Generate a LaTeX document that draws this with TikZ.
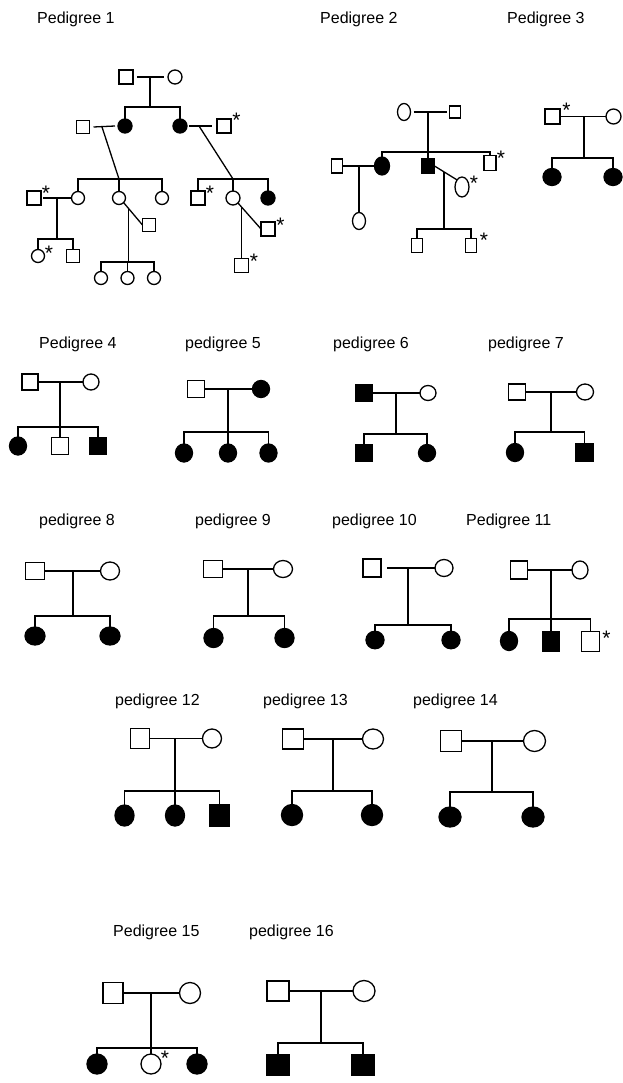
\documentclass[tikz,border=0pt]{standalone}
\usepackage{fontspec}
\setmainfont{Liberation Sans}
\usetikzlibrary{shapes.geometric,calc}
\tikzset{
 sym/.style={draw, line width=1.3pt, inner sep=0pt, outer sep=0pt},
 msq/.style 2 args={sym, rectangle, minimum width=#1, minimum height=#2},
 fel/.style 2 args={sym, ellipse, minimum width=#1, minimum height=#2},
 aff/.style={fill=black},
 con/.style={line width=1.3pt},
 lbl/.style={anchor=base west, inner sep=0pt, font=\fontsize{16}{19}\selectfont},
 ast/.style={anchor=base, inner sep=0pt, font=\fontsize{21}{21}\selectfont},
}
\begin{document}
\begin{tikzpicture}[x=1pt,y=-1pt]
\path[use as bounding box, fill=white] (0,0) rectangle (623,1083);

% ---------------- Pedigree 1
\node[lbl] (l1) at (37,24) {Pedigree 1};
\node[msq={14}{14}] (p1a) at (126,77) {};
\node[fel={14}{14}] (p1b) at (175,77) {};
\draw[con] ([xshift=4]p1a.east) -- ([xshift=-4]p1b.west);
\coordinate (p1m) at (150,77);
\coordinate (p1s) at (150,107);
\draw[con] (p1m) -- (p1s);
\node[fel={14}{14},aff] (p1c) at (125,126) {};
\node[fel={14}{14},aff] (p1d) at (180,126) {};
\draw[con] (p1c.north) |- (p1s) -| (p1d.north);
% left branch
\node[msq={13}{13}] (p1e) at (83,127) {};
\draw[con] ([xshift=4]p1e.east) -- ([xshift=-3]p1c.west);
\coordinate (p1m2) at (102,127);
\coordinate (p1s2) at (119,179);
\draw[con] (p1m2) -- (p1s2);
\node[fel={13}{13}] (p1f) at (78,198) {};
\node[fel={13}{13}] (p1g) at (119,198) {};
\node[fel={13}{13}] (p1h) at (162,198) {};
\draw[con] (p1f.north) |- (p1s2) -| (p1h.north);
\draw[con] (p1s2) -- (p1g.north);
\node[msq={14}{14}] (p1i) at (34,198) {};
\node[ast] (p1ia) at (46,200.5) {*};
\draw[con] ([xshift=2]p1i.east) -- (p1f.west);
\coordinate (p1m3) at (57,198);
\coordinate (p1s3) at (57,239);
\draw[con] (p1m3) -- (p1s3);
\node[fel={13}{13}] (p1j) at (38,256) {};
\node[ast] (p1ja) at (49,260.5) {*};
\node[msq={13}{13}] (p1k) at (73,256) {};
\draw[con] (p1j.north) |- (p1s3) -| (p1k.north);
\node[msq={13}{13}] (p1l) at (149,225) {};
\draw[con] (p1g.south east) -- (p1l.west);
\coordinate (p1m4) at ($(p1g.south east)!0.27!(p1l.west)$);
\coordinate (p1s4) at (128,262);
\draw[con] (p1m4) -- (p1m4 |- p1s4);
\node[fel={13}{13}] (p1n) at (101,278) {};
\node[fel={13}{13}] (p1o) at (127.5,278) {};
\node[fel={13}{13}] (p1p) at (154,278) {};
\draw[con] (p1n.north) |- (p1s4) -| (p1p.north);
\draw[con] (p1o.north |- p1s4) -- (p1o.north);
% right branch
\node[msq={14}{14}] (p1r1) at (224,126) {};
\node[ast] (p1r1a) at (236.5,127.5) {*};
\draw[con] ([xshift=2]p1d.east) -- ([xshift=-5]p1r1.west);
\coordinate (p1m5) at (199,126);
\coordinate (p1s5) at (233,179);
\draw[con] (p1m5) -- (p1s5);
\node[msq={14}{14}] (p1r2) at (198,198) {};
\node[ast] (p1r2a) at (210,200.5) {*};
\node[fel={14}{14}] (p1r3) at (233,198) {};
\node[fel={14}{14},aff] (p1r4) at (268,198) {};
\draw[con] (p1r2.north) |- (p1s5) -| (p1r4.north);
\draw[con] (p1s5) -- (p1r3.north);
\node[msq={14}{14}] (p1r5) at (268,229) {};
\node[ast] (p1r5a) at (280.5,232.5) {*};
\draw[con] (p1r3.south east) -- (p1r5.west);
\coordinate (p1m6) at ($(p1r3.south east)!0.16!(p1r5.west)$);
\node[msq={14}{14}] (p1r6) at (241.7,265.5) {};
\node[ast] (p1r6a) at (254,268.5) {*};
\draw[con] (p1m6) -- (p1m6 |- p1r6.north);

% ---------------- Pedigree 2
\node[lbl] (l2) at (320,24) {Pedigree 2};
\node[fel={13}{17}] (p2a) at (404,112) {};
\node[msq={11}{12}] (p2b) at (455,112) {};
\draw[con] ([xshift=3]p2a.east) -- ([xshift=-3]p2b.west);
\coordinate (p2m) at (428,112);
\coordinate (p2s) at (428,152);
\draw[con] (p2m) -- (p2s);
\node[fel={15}{18},aff] (p2c) at (382,166) {};
\node[msq={13}{14},aff] (p2d) at (428,166) {};
\node[msq={12}{15}] (p2e) at (490,163) {};
\node[ast] (p2ea) at (501,165.5) {*};
\draw[con] (p2c.north) |- (p2s) -| (p2e.north);
\draw[con] (p2s) -- (p2d.north);
\node[msq={11}{14}] (p2f) at (337,166) {};
\draw[con] (p2f.east) -- (p2c.west);
\coordinate (p2m2) at (359,166);
\node[fel={13}{17}] (p2g) at (359,221) {};
\draw[con] (p2m2) -- (p2g.north);
\node[fel={14}{20}] (p2h) at (462,187) {};
\node[ast] (p2ha) at (474,190.5) {*};
\draw[con] (p2d.east) -- (p2h.north west);
\coordinate (p2m3) at ($(p2d.east)!0.42!(p2h.north west)$);
\coordinate (p2s3) at (444,229);
\draw[con] (p2m3) -- (p2m3 |- p2s3);
\node[msq={11}{14}] (p2i) at (417,245.5) {};
\node[msq={11}{14}] (p2j) at (471,245.5) {};
\node[ast] (p2ja) at (484,247.5) {*};
\draw[con] (p2i.north) |- (p2s3) -| (p2j.north);

% ---------------- Pedigree 3
\node[lbl] (l3) at (507,24) {Pedigree 3};
\node[msq={15}{15}] (p3a) at (552.5,116.5) {};
\node[ast] (p3aa) at (566.5,117.5) {*};
\node[fel={15}{15}] (p3b) at (613.5,116.5) {};
\draw[con] (p3a.east) -- (p3b.west);
\coordinate (p3m) at (584,116.5);
\coordinate (p3s) at (584,158);
\draw[con] (p3m) -- (p3s);
\node[fel={18}{17},aff] (p3c) at (552,177) {};
\node[fel={18}{17},aff] (p3d) at (613,177) {};
\draw[con] (p3c.north) |- (p3s) -| (p3d.north);

% ---------------- Pedigree 4
\node[lbl] (l4) at (39,348) {Pedigree 4};
\node[msq={16}{16}] (p4a) at (30,382) {};
\node[fel={16}{16}] (p4b) at (91,382) {};
\draw[con] (p4a.east) -- (p4b.west);
\coordinate (p4m) at (60,382);
\coordinate (p4s) at (60,427);
\draw[con] (p4m) -- (p4s);
\node[fel={17}{18},aff] (p4c) at (18,446) {};
\node[msq={17}{17}] (p4d) at (60,446) {};
\node[msq={17}{17},aff] (p4e) at (98,446) {};
\draw[con] (p4c.north) |- (p4s) -| (p4e.north);
\draw[con] (p4s) -- (p4d.north);

% ---------------- Pedigree 5
\node[lbl] (l5) at (185,348) {pedigree 5};
\node[msq={17}{17}] (p5a) at (196,389) {};
\node[fel={17}{17},aff] (p5b) at (261,389) {};
\draw[con] (p5a.east) -- (p5b.west);
\coordinate (p5m) at (228,389);
\coordinate (p5s) at (228,432);
\draw[con] (p5m) -- (p5s);
\node[fel={17}{18},aff] (p5c) at (184,453) {};
\node[fel={17}{18},aff] (p5d) at (228,453) {};
\node[fel={17}{18},aff] (p5e) at (268.5,453) {};
\draw[con] (p5c.north) |- (p5s) -| (p5e.north);
\draw[con] (p5s) -- (p5d.north);

% ---------------- Pedigree 6
\node[lbl] (l6) at (333,348) {pedigree 6};
\node[msq={17}{16},aff] (p6a) at (364,393) {};
\node[fel={16}{15}] (p6b) at (428,393) {};
\draw[con] (p6a.east) -- (p6b.west);
\coordinate (p6m) at (396,393);
\coordinate (p6s) at (396,434);
\draw[con] (p6m) -- (p6s);
\node[msq={17}{17},aff] (p6c) at (364,453) {};
\node[fel={17}{17},aff] (p6d) at (427,453) {};
\draw[con] (p6c.north) |- (p6s) -| (p6d.north);

% ---------------- Pedigree 7
\node[lbl] (l7) at (488,348) {pedigree 7};
\node[msq={17}{16}] (p7a) at (517,392) {};
\node[fel={17}{16}] (p7b) at (585,392) {};
\draw[con] (p7a.east) -- (p7b.west);
\coordinate (p7m) at (551,392);
\coordinate (p7s) at (551,432);
\draw[con] (p7m) -- (p7s);
\node[fel={17}{18},aff] (p7c) at (515,452.5) {};
\node[msq={17.5}{17.5},aff] (p7d) at (584.5,452.5) {};
\draw[con] (p7c.north) |- (p7s) -| (p7d.north);

% ---------------- Pedigree 8
\node[lbl] (l8) at (39,525) {pedigree 8};
\node[msq={19}{17}] (p8a) at (35,571) {};
\node[fel={19}{18}] (p8b) at (110,571) {};
\draw[con] (p8a.east) -- (p8b.west);
\coordinate (p8m) at (73,571);
\coordinate (p8s) at (73,616);
\draw[con] (p8m) -- (p8s);
\node[fel={20}{18},aff] (p8c) at (35,636) {};
\node[fel={20}{18},aff] (p8d) at (110,636) {};
\draw[con] (p8c.north) |- (p8s) -| (p8d.north);

% ---------------- Pedigree 9
\node[lbl] (l9) at (195,525) {pedigree 9};
\node[msq={19}{17}] (p9a) at (213,569) {};
\node[fel={19}{17}] (p9b) at (283,569) {};
\draw[con] (p9a.east) -- (p9b.west);
\coordinate (p9m) at (248,569);
\coordinate (p9s) at (248,616);
\draw[con] (p9m) -- (p9s);
\node[fel={19}{19},aff] (p9c) at (213.5,638) {};
\node[fel={19}{19},aff] (p9d) at (284.5,638) {};
\draw[con] (p9c.north) |- (p9s) -| (p9d.north);

% ---------------- Pedigree 10
\node[lbl] (l10) at (332,525) {pedigree 10};
\node[msq={18}{18}] (p10a) at (372,568) {};
\node[fel={18}{17}] (p10b) at (444,568) {};
\draw[con] ([xshift=6]p10a.east) -- (p10b.west);
\coordinate (p10m) at (408,568);
\coordinate (p10s) at (408,625);
\draw[con] (p10m) -- (p10s);
\node[fel={18}{17.5},aff] (p10c) at (375,640) {};
\node[fel={18}{17.5},aff] (p10d) at (451,640) {};
\draw[con] (p10c.north) |- (p10s) -| (p10d.north);

% ---------------- Pedigree 11
\node[lbl] (l11) at (466,525) {Pedigree 11};
\node[msq={17}{18}] (p11a) at (519,570) {};
\node[fel={16}{18}] (p11b) at (580,570) {};
\draw[con] (p11a.east) -- (p11b.west);
\coordinate (p11m) at (551,570);
\coordinate (p11s) at (551,619);
\draw[con] (p11m) -- (p11s);
\node[fel={17}{19},aff] (p11c) at (509,641) {};
\node[msq={17.5}{20},aff] (p11d) at (551,641.5) {};
\node[msq={17.5}{20}] (p11e) at (590.5,641.5) {};
\node[ast] (p11ea) at (606.5,645.5) {*};
\draw[con] (p11c.north) |- (p11s) -| (p11e.north);
\draw[con] (p11s) -- (p11d.north);

% ---------------- Pedigree 12
\node[lbl] (l12) at (115,705) {pedigree 12};
\node[msq={19}{20}] (p12a) at (140,738.5) {};
\node[fel={19}{19}] (p12b) at (212,738.5) {};
\draw[con] (p12a.east) -- (p12b.west);
\coordinate (p12m) at (175,738.5);
\coordinate (p12s) at (175,791);
\draw[con] (p12m) -- (p12s);
\node[fel={19}{21},aff] (p12c) at (124.5,815.5) {};
\node[fel={19}{21},aff] (p12d) at (175,815.5) {};
\node[msq={19}{21},aff] (p12e) at (219.5,815.5) {};
\draw[con] (p12c.north) |- (p12s) -| (p12e.north);
\draw[con] (p12s) -- (p12d.north);

% ---------------- Pedigree 13
\node[lbl] (l13) at (263,705) {pedigree 13};
\node[msq={21}{20}] (p13a) at (293,739) {};
\node[fel={21}{20}] (p13b) at (373,739) {};
\draw[con] (p13a.east) -- (p13b.west);
\coordinate (p13m) at (333,739);
\coordinate (p13s) at (333,791);
\draw[con] (p13m) -- (p13s);
\node[fel={21}{21},aff] (p13c) at (292,815) {};
\node[fel={21}{21},aff] (p13d) at (372,815) {};
\draw[con] (p13c.north) |- (p13s) -| (p13d.north);

% ---------------- Pedigree 14
\node[lbl] (l14) at (413,705) {pedigree 14};
\node[msq={21.5}{21}] (p14a) at (451,741) {};
\node[fel={22}{21}] (p14b) at (534.5,741) {};
\draw[con] (p14a.east) -- (p14b.west);
\coordinate (p14m) at (492,741);
\coordinate (p14s) at (492,792);
\draw[con] (p14m) -- (p14s);
\node[fel={22}{20},aff] (p14c) at (450,817) {};
\node[fel={22}{20},aff] (p14d) at (533,817) {};
\draw[con] (p14c.north) |- (p14s) -| (p14d.north);

% ---------------- Pedigree 15
\node[lbl] (l15) at (113,936.5) {Pedigree 15};
\node[msq={20}{21}] (p15a) at (113,993) {};
\node[fel={21}{21}] (p15b) at (190,993) {};
\draw[con] (p15a.east) -- (p15b.west);
\coordinate (p15m) at (151,993);
\coordinate (p15s) at (151,1048);
\draw[con] (p15m) -- (p15s);
\node[fel={20}{20},aff] (p15c) at (97,1064) {};
\node[fel={20}{20}] (p15d) at (151,1064) {};
\node[ast] (p15da) at (165,1065.5) {*};
\node[fel={20}{20},aff] (p15e) at (197,1064) {};
\draw[con] (p15c.north) |- (p15s) -| (p15e.north);
\draw[con] (p15s) -- (p15d.north);

% ---------------- Pedigree 16
\node[lbl] (l16) at (249,936.5) {pedigree 16};
\node[msq={22}{20}] (p16a) at (278,991) {};
\node[fel={22}{21}] (p16b) at (364,991) {};
\draw[con] (p16a.east) -- (p16b.west);
\coordinate (p16m) at (321,991);
\coordinate (p16s) at (321,1043);
\draw[con] (p16m) -- (p16s);
\node[msq={23}{20},aff] (p16c) at (278,1065) {};
\node[msq={23}{20},aff] (p16d) at (363,1065) {};
\draw[con] (p16c.north) |- (p16s) -| (p16d.north);
\end{tikzpicture}
\end{document}
